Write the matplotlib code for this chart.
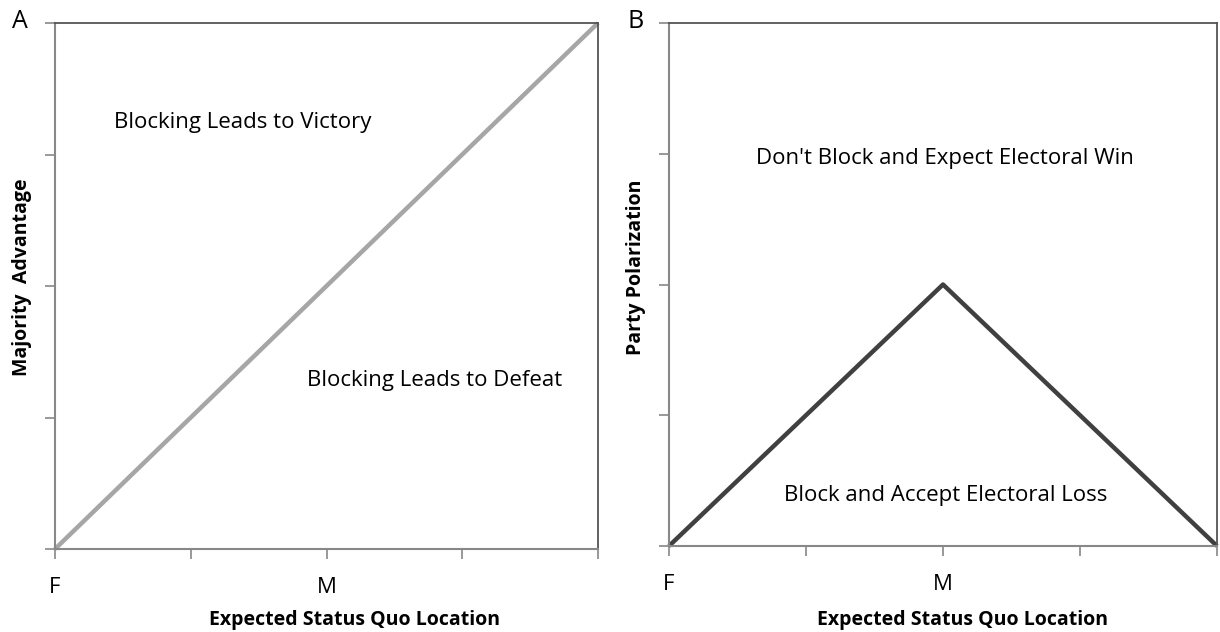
import matplotlib.pyplot as plt

plt.rcParams['font.family'] = ['Open Sans', 'DejaVu Sans']

# data
x_ticks = [0, 0.25, 0.5, 0.75, 1.0]
x_ticklabels = ['F', '', 'M', '', '']
y_ticks = [0, 0.25, 0.5, 0.75, 1.0]

a_x = [0, 1]
a_y = [0, 1]
b_x = [0, 0.5, 1]
b_y = [0, 0.5, 0]

fig = plt.figure(figsize=(12.2, 6.32), dpi=100)
ax_a = fig.add_axes([55/1220, 1 - 549/632, 543/1220, 526/632])
ax_b = fig.add_axes([669/1220, 1 - 546/632, 548/1220, 523/632])


def style(ax, ylabel, xlab_xy, ylab_y):
    ax.set_xlim(0, 1)
    ax.set_ylim(0, 1)
    ax.set_xticks(x_ticks)
    ax.set_xticklabels(x_ticklabels, fontsize=16)
    ax.set_yticks(y_ticks)
    ax.set_yticklabels([])
    ax.tick_params(axis='x', direction='out', length=7, width=1.2, color='#888888', pad=13)
    ax.tick_params(axis='y', direction='out', length=7, width=1.2, color='#888888')
    for s in ['left', 'bottom']:
        ax.spines[s].set_color('#888888')
        ax.spines[s].set_linewidth(1.5)
    for s in ['top', 'right']:
        ax.spines[s].set_color('#555555')
        ax.spines[s].set_linewidth(1.3)
    ax.set_xlabel('Expected Status Quo Location', fontsize=14, fontweight='bold')
    ax.xaxis.set_label_coords(*xlab_xy)
    ax.xaxis.label.set_va('center')
    ax.set_ylabel(ylabel, fontsize=14, fontweight='bold')
    ax.yaxis.set_label_coords(-0.06, ylab_y)
    ax.yaxis.label.set_va('center')


style(ax_a, 'Majority  Advantage', (0.551, (549 - 620) / 526), 0.517)
style(ax_b, 'Party Polarization', (0.536, (546 - 620) / 523), 0.533)

ax_a.plot(a_x, a_y, color='#a6a6a6', lw=3.2, solid_capstyle='butt', clip_on=False)
ax_b.plot(b_x, b_y, color='#404040', lw=3.2, solid_capstyle='butt', clip_on=False)

ax_a.text(0.346, 0.81, 'Blocking Leads to Victory', fontsize=16, ha='center', va='center')
ax_a.text(0.70, 0.32, 'Blocking Leads to Defeat', fontsize=16, ha='center', va='center')
ax_b.text(0.504, 0.74, "Don't Block and Expect Electoral Win", fontsize=16, ha='center', va='center')
ax_b.text(0.504, 0.096, 'Block and Accept Electoral Loss', fontsize=16, ha='center', va='center')

fig.text(20/1220, 1 - 22/632, 'A', fontsize=18, ha='center', va='center')
fig.text(636/1220, 1 - 22/632, 'B', fontsize=18, ha='center', va='center')

fig.savefig('out.png', dpi=100)
